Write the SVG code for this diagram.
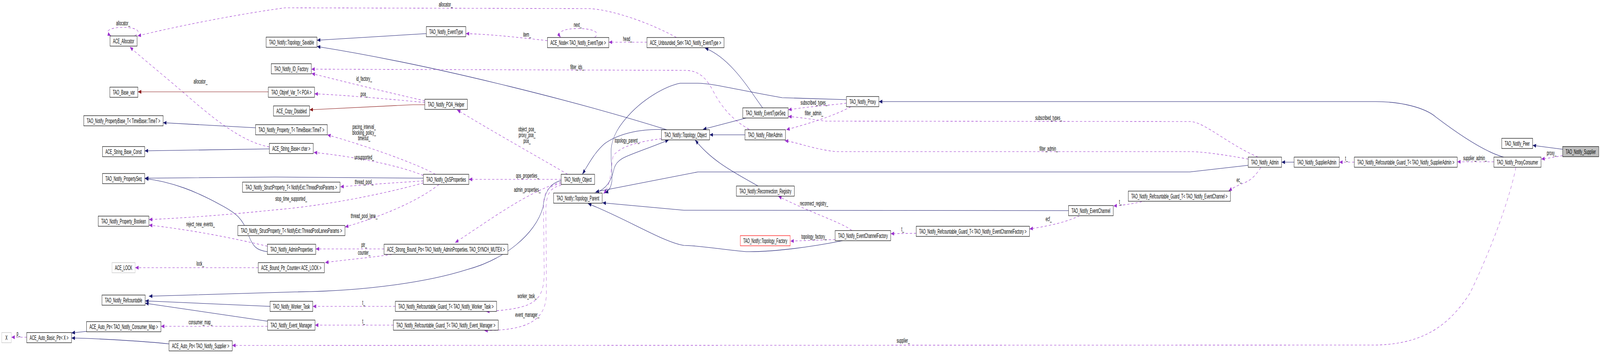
<svg xmlns="http://www.w3.org/2000/svg" width="6512" height="911" viewBox="0 0 6512 911" preserveAspectRatio="none">
<style>
svg:root{width:100vw;height:100vh}
.n rect{fill:#fff;stroke:#000;stroke-width:1.2}
.n rect.g{stroke:#bfbfbf}
.n rect.red{stroke:#ff0000}
.n rect.sel{fill:#bfbfbf}
text{font-family:"Liberation Sans",Arial,Helvetica,sans-serif;font-size:17px;fill:#000}
.n text{text-anchor:middle}
.l{text-anchor:middle}
#edges path{fill:none;stroke-width:1.1}
#edges .b{stroke:#191970;marker-end:url(#ab)}
#edges .r{stroke:#8b1a1a;marker-end:url(#ar)}
#edges .p{stroke:#9a32cd;stroke-dasharray:9,8;marker-end:url(#ap)}
</style>
<defs>
<marker id="ab" markerUnits="userSpaceOnUse" markerWidth="14" markerHeight="10" viewBox="0 0 14 10" refX="14" refY="5" orient="auto"><path d="M0,0 L14,5 L0,10 z" fill="#191970"/></marker>
<marker id="ar" markerUnits="userSpaceOnUse" markerWidth="14" markerHeight="10" viewBox="0 0 14 10" refX="14" refY="5" orient="auto"><path d="M0,0 L14,5 L0,10 z" fill="#8b1a1a"/></marker>
<marker id="ap" markerUnits="userSpaceOnUse" markerWidth="14" markerHeight="10" viewBox="0 0 14 10" refX="14" refY="5" orient="auto"><path d="M0,0 L14,5 L0,10 z" fill="#9a32cd"/></marker>
</defs>
<rect width="6512" height="911" fill="#fff"/>
<g id="edges">
<path class="p" d="M548,92 C585,76 540,70 500,70 C455,70 418,78 452,92"/>
<path class="p" d="M2753,96 C2650,60 2500,26 2400,22 L1160,20 C950,38 700,70 560,92"/>
<path class="p" d="M1096,376 C1000,365 900,320 780,255 C680,200 580,150 528,120"/>
<path class="p" d="M2420,96 C2450,80 2400,73 2355,73 C2300,73 2265,80 2282,96"/>
<path class="p" d="M2228,104 C2100,95 2000,88 1896,86"/>
<path class="p" d="M2633,108 L2478,108"/>
<path class="b" d="M3104,276 C3060,240 2980,150 2869,123"/>
<path class="b" d="M1735,86 L1290,103"/>
<path class="b" d="M2714,332 C2400,270 1800,170 1290,119"/>
<path class="p" d="M3049,331 C2990,310 2940,280 2900,230 C2870,195 2840,181 2790,180 L1267,177"/>
<path class="p" d="M1729,258 C1700,254 1500,225 1268,188"/>
<path class="p" d="M1729,262 C1650,258 1450,245 1280,240"/>
<path class="r" d="M1729,268 L1680,268 L1260,281"/>
<path class="r" d="M1092,235 L561,235"/>
<path class="p" d="M2310,446 C2200,405 2000,335 1860,281"/>
<path class="p" d="M2284,459 L1908,459"/>
<path class="p" d="M2284,466 C2150,490 2000,560 1852,621"/>
<path class="b" d="M2284,462 C2230,470 2215,500 2210,530 C2180,600 2050,665 1900,690 C1750,720 1500,745 1200,747 L606,758"/>
<path class="p" d="M2284,470 C2230,475 2212,490 2212,530 L2215,700 C2212,770 2180,790 1978,797"/>
<path class="p" d="M2284,474 C2240,480 2222,495 2222,540 L2224,750 C2222,820 2150,845 1971,846"/>
<path class="p" d="M1609,784 L1273,784"/>
<path class="p" d="M1601,832 L1282,832"/>
<path class="b" d="M1099,784 L591,770"/>
<path class="b" d="M1089,822 L591,776"/>
<path class="p" d="M1089,835 L655,835"/>
<path class="b" d="M352,848 L291,852"/>
<path class="b" d="M688,880 C600,874 400,866 291,865"/>
<path class="p" d="M109,863 L46,863"/>
<path class="p" d="M1563,637 L1285,637"/>
<path class="p" d="M1595,651 C1500,660 1400,665 1323,672"/>
<path class="p" d="M1051,685 L550,685"/>
<path class="b" d="M1088,644 C1040,640 1030,630 1010,600 C990,560 960,545 900,525 C800,490 700,465 590,457"/>
<path class="p" d="M1088,630 C950,610 800,590 606,576"/>
<path class="b" d="M1723,456 L1120,453 L590,456"/>
<path class="p" d="M1772,446 C1700,420 1500,375 1332,345"/>
<path class="p" d="M1723,449 C1650,430 1500,405 1277,390"/>
<path class="p" d="M1723,463 C1650,466 1500,472 1385,478"/>
<path class="p" d="M1723,468 C1600,490 1350,525 1120,537 C950,548 800,556 606,562"/>
<path class="p" d="M1787,472 C1720,505 1600,545 1404,581"/>
<path class="b" d="M1040,327 L664,314"/>
<path class="b" d="M1096,381 L589,386"/>
<path class="b" d="M2714,332 C2620,328 2520,340 2460,368 C2420,390 2395,420 2370,446"/>
<path class="b" d="M2420,494 C2470,485 2490,460 2500,430 C2515,400 2560,400 2722,358"/>
<path class="p" d="M2692,355 C2600,362 2520,375 2495,400 C2485,430 2490,470 2456,496"/>
<path class="b" d="M3445,255 L3183,250 C3000,230 2900,213 2840,213 L2768,213 C2700,222 2620,255 2569,288 C2520,320 2490,350 2487,384 C2486,420 2494,445 2490,465 C2486,482 2475,490 2462,494"/>
<path class="b" d="M5080,423 L4843,440 L2840,440 L2424,491"/>
<path class="b" d="M4349,539 L2783,538 L2452,519"/>
<path class="b" d="M3429,616 C3300,632 3150,645 3037,644 C2950,640 2850,628 2783,628 C2700,620 2550,560 2393,521"/>
<path class="b" d="M3037,302 L2861,331"/>
<path class="b" d="M3032,345 L2888,345"/>
<path class="b" d="M3085,476 C3000,445 2900,415 2829,358"/>
<path class="p" d="M3445,264 C3400,268 3300,272 3208,281"/>
<path class="p" d="M3463,273 C3400,295 3300,315 3200,332"/>
<path class="p" d="M5120,402 C5000,370 4900,311 4843,311 L3360,310 C3300,305 3250,300 3208,298"/>
<path class="p" d="M5080,407 C5000,398 4900,388 4843,388 L3400,388 C3300,380 3250,365 3194,360"/>
<path class="p" d="M5132,428 C5110,450 5090,462 5060,469 C5035,475 5015,482 5000,489"/>
<path class="p" d="M4664,514 C4620,520 4580,525 4532,527"/>
<path class="p" d="M4394,552 C4350,565 4300,575 4190,586"/>
<path class="p" d="M3729,597 L3625,598"/>
<path class="p" d="M3467,590 C3430,570 3300,545 3167,502"/>
<path class="p" d="M3399,613 L3217,617"/>
<path class="b" d="M6120,402 C6050,390 5950,350 5845,300 C5800,275 5700,260 5600,260 L3577,260"/>
<path class="p" d="M6080,414 L5931,414"/>
<path class="p" d="M5512,415 L5451,415"/>
<path class="b" d="M5267,415 L5216,415"/>
<path class="p" d="M6170,428 C6140,520 6060,650 5983,750 C5900,830 5800,880 5600,883 L945,884"/>
<path class="p" d="M6360,398 C6330,402 6300,405 6273,407"/>
<path class="b" d="M6360,382 L6238,372"/>
</g>
<g id="labels">
<text class="l" transform="translate(501,65) scale(0.77,1)">allocator_</text>
<text class="l" transform="translate(1814,17) scale(0.77,1)">allocator_</text>
<text class="l" transform="translate(816,214) scale(0.77,1)">allocator_</text>
<text class="l" transform="translate(2351,69) scale(0.77,1)">next_</text>
<text class="l" transform="translate(2145,94) scale(0.77,1)">item_</text>
<text class="l" transform="translate(2554,105) scale(0.77,1)">head_</text>
<text class="l" transform="translate(2349,177) scale(0.77,1)">filter_ids_</text>
<text class="l" transform="translate(1482,207) scale(0.77,1)">id_factory_</text>
<text class="l" transform="translate(1482,246) scale(0.77,1)">poa_</text>
<text class="l" transform="translate(2145,336) scale(0.77,1)">object_poa_</text>
<text class="l" transform="translate(2145,351) scale(0.77,1)">proxy_poa_</text>
<text class="l" transform="translate(2145,366) scale(0.77,1)">poa_</text>
<text class="l" transform="translate(2147,455) scale(0.77,1)">qos_properties_</text>
<text class="l" transform="translate(2146,491) scale(0.77,1)">admin_properties_</text>
<text class="l" transform="translate(2145,763) scale(0.77,1)">worker_task_</text>
<text class="l" transform="translate(2146,811) scale(0.77,1)">event_manager_</text>
<text class="l" transform="translate(1480,780) scale(0.77,1)">t_</text>
<text class="l" transform="translate(1480,828) scale(0.77,1)">t_</text>
<text class="l" transform="translate(816,830) scale(0.77,1)">consumer_map_</text>
<text class="l" transform="translate(75,859) scale(0.77,1)">p_</text>
<text class="l" transform="translate(1482,632) scale(0.77,1)">ptr_</text>
<text class="l" transform="translate(1482,652) scale(0.77,1)">counter_</text>
<text class="l" transform="translate(815,680) scale(0.77,1)">lock_</text>
<text class="l" transform="translate(816,579) scale(0.77,1)">reject_new_events_</text>
<text class="l" transform="translate(1482,330) scale(0.77,1)">pacing_interval_</text>
<text class="l" transform="translate(1482,345) scale(0.77,1)">blocking_policy_</text>
<text class="l" transform="translate(1482,359) scale(0.77,1)">timeout_</text>
<text class="l" transform="translate(1482,408) scale(0.77,1)">unsupported_</text>
<text class="l" transform="translate(1482,471) scale(0.77,1)">thread_pool_</text>
<text class="l" transform="translate(1185,514) scale(0.77,1)">stop_time_supported_</text>
<text class="l" transform="translate(1482,558) scale(0.77,1)">thread_pool_lane_</text>
<text class="l" transform="translate(2552,365) scale(0.77,1)">topology_parent_</text>
<text class="l" transform="translate(3313,268) scale(0.77,1)">subscribed_types_</text>
<text class="l" transform="translate(3313,295) scale(0.77,1)">filter_admin_</text>
<text class="l" transform="translate(4268,307) scale(0.77,1)">subscribed_types_</text>
<text class="l" transform="translate(4268,386) scale(0.77,1)">filter_admin_</text>
<text class="l" transform="translate(5043,466) scale(0.77,1)">ec_</text>
<text class="l" transform="translate(4560,522) scale(0.77,1)">t_</text>
<text class="l" transform="translate(4268,566) scale(0.77,1)">ecf_</text>
<text class="l" transform="translate(3674,592) scale(0.77,1)">t_</text>
<text class="l" transform="translate(3313,526) scale(0.77,1)">reconnect_registry_</text>
<text class="l" transform="translate(3313,611) scale(0.77,1)">topology_factory_</text>
<text class="l" transform="translate(6003,410) scale(0.77,1)">supplier_admin_</text>
<text class="l" transform="translate(5480,411) scale(0.77,1)">t_</text>
<text class="l" transform="translate(3676,877) scale(0.77,1)">supplier_</text>
<text class="l" transform="translate(6315,397) scale(0.77,1)">proxy_</text>
</g>
<g id="n1" class="n"><rect x="448" y="92" width="110" height="26"/><text x="503" y="111" textLength="86" lengthAdjust="spacingAndGlyphs">ACE_Allocator</text></g>
<g id="n2" class="n"><rect x="447" y="223" width="114" height="26"/><text x="504" y="242" textLength="90" lengthAdjust="spacingAndGlyphs">TAO_Base_var</text></g>
<g id="n3" class="n"><rect x="341" y="296" width="323" height="26"/><text x="502.5" y="315" textLength="299" lengthAdjust="spacingAndGlyphs">TAO_Notify_PropertyBase_T&lt; TimeBase::TimeT &gt;</text></g>
<g id="n4" class="n"><rect x="417" y="375" width="172" height="26"/><text x="503" y="394" textLength="148" lengthAdjust="spacingAndGlyphs">ACE_String_Base_Const</text></g>
<g id="n5" class="n"><rect x="417" y="444" width="172" height="26"/><text x="503" y="463" textLength="148" lengthAdjust="spacingAndGlyphs">TAO_Notify_PropertySeq</text></g>
<g id="n6" class="n"><rect x="400" y="553" width="206" height="26"/><text x="503" y="572" textLength="182" lengthAdjust="spacingAndGlyphs">TAO_Notify_Property_Boolean</text></g>
<g id="n7" class="n"><rect class="g" x="456" y="672" width="94" height="26"/><text x="503" y="691" textLength="70" lengthAdjust="spacingAndGlyphs">ACE_LOCK</text></g>
<g id="n8" class="n"><rect x="415" y="755" width="176" height="26"/><text x="503" y="774" textLength="152" lengthAdjust="spacingAndGlyphs">TAO_Notify_Refcountable</text></g>
<g id="n9" class="n"><rect x="352" y="823" width="303" height="26"/><text x="503.5" y="842" textLength="279" lengthAdjust="spacingAndGlyphs">ACE_Auto_Ptr&lt; TAO_Notify_Consumer_Map &gt;</text></g>
<g id="n10" class="n"><rect class="g" x="7" y="851" width="39" height="26"/><text x="26.5" y="870" textLength="9" lengthAdjust="spacingAndGlyphs">X</text></g>
<g id="n11" class="n"><rect x="109" y="851" width="182" height="26"/><text x="200" y="870" textLength="158" lengthAdjust="spacingAndGlyphs">ACE_Auto_Basic_Ptr&lt; X &gt;</text></g>
<g id="n12" class="n"><rect x="688" y="872" width="257" height="26"/><text x="816.5" y="891" textLength="233" lengthAdjust="spacingAndGlyphs">ACE_Auto_Ptr&lt; TAO_Notify_Supplier &gt;</text></g>
<g id="n13" class="n"><rect x="1083" y="95" width="207" height="26"/><text x="1186.5" y="114" textLength="183" lengthAdjust="spacingAndGlyphs">TAO_Notify::Topology_Savable</text></g>
<g id="n14" class="n"><rect x="1104" y="163" width="163" height="26"/><text x="1185.5" y="182" textLength="139" lengthAdjust="spacingAndGlyphs">TAO_Notify_ID_Factory</text></g>
<g id="n15" class="n"><rect x="1092" y="223" width="188" height="26"/><text x="1186" y="242" textLength="164" lengthAdjust="spacingAndGlyphs">TAO_Objref_Var_T&lt; POA &gt;</text></g>
<g id="n16" class="n"><rect x="1113" y="271" width="147" height="26"/><text x="1186.5" y="290" textLength="123" lengthAdjust="spacingAndGlyphs">ACE_Copy_Disabled</text></g>
<g id="n17" class="n"><rect x="1040" y="319" width="292" height="26"/><text x="1186" y="338" textLength="268" lengthAdjust="spacingAndGlyphs">TAO_Notify_Property_T&lt; TimeBase::TimeT &gt;</text></g>
<g id="n18" class="n"><rect x="1096" y="367" width="179" height="26"/><text x="1185.5" y="386" textLength="155" lengthAdjust="spacingAndGlyphs">ACE_String_Base&lt; char &gt;</text></g>
<g id="n19" class="n"><rect x="987" y="466" width="397" height="26"/><text x="1185.5" y="485" textLength="373" lengthAdjust="spacingAndGlyphs">TAO_Notify_StructProperty_T&lt; NotifyExt::ThreadPoolParams &gt;</text></g>
<g id="n20" class="n"><rect x="968" y="577" width="436" height="26"/><text x="1186" y="596" textLength="412" lengthAdjust="spacingAndGlyphs">TAO_Notify_StructProperty_T&lt; NotifyExt::ThreadPoolLanesParams &gt;</text></g>
<g id="n21" class="n"><rect x="1088" y="625" width="197" height="26"/><text x="1186.5" y="644" textLength="173" lengthAdjust="spacingAndGlyphs">TAO_Notify_AdminProperties</text></g>
<g id="n22" class="n"><rect x="1051" y="672" width="269" height="26"/><text x="1185.5" y="691" textLength="245" lengthAdjust="spacingAndGlyphs">ACE_Bound_Ptr_Counter&lt; ACE_LOCK &gt;</text></g>
<g id="n23" class="n"><rect x="1099" y="771" width="174" height="26"/><text x="1186" y="790" textLength="150" lengthAdjust="spacingAndGlyphs">TAO_Notify_Worker_Task</text></g>
<g id="n24" class="n"><rect x="1089" y="819" width="193" height="26"/><text x="1185.5" y="838" textLength="169" lengthAdjust="spacingAndGlyphs">TAO_Notify_Event_Manager</text></g>
<g id="n25" class="n"><rect x="1563" y="625" width="504" height="26"/><text x="1815" y="644" textLength="480" lengthAdjust="spacingAndGlyphs">ACE_Strong_Bound_Ptr&lt; TAO_Notify_AdminProperties, TAO_SYNCH_MUTEX &gt;</text></g>
<g id="n26" class="n"><rect x="1609" y="771" width="412" height="26"/><text x="1815" y="790" textLength="388" lengthAdjust="spacingAndGlyphs">TAO_Notify_Refcountable_Guard_T&lt; TAO_Notify_Worker_Task &gt;</text></g>
<g id="n27" class="n"><rect x="1601" y="819" width="427" height="26"/><text x="1814.5" y="838" textLength="403" lengthAdjust="spacingAndGlyphs">TAO_Notify_Refcountable_Guard_T&lt; TAO_Notify_Event_Manager &gt;</text></g>
<g id="n28" class="n"><rect x="1735" y="68" width="161" height="26"/><text x="1815.5" y="87" textLength="137" lengthAdjust="spacingAndGlyphs">TAO_Notify_EventType</text></g>
<g id="n29" class="n"><rect x="1729" y="254" width="173" height="26"/><text x="1815.5" y="273" textLength="149" lengthAdjust="spacingAndGlyphs">TAO_Notify_POA_Helper</text></g>
<g id="n30" class="n"><rect x="1723" y="446" width="185" height="26"/><text x="1815.5" y="465" textLength="161" lengthAdjust="spacingAndGlyphs">TAO_Notify_QoSProperties</text></g>
<g id="n31" class="n"><rect x="2228" y="96" width="250" height="26"/><text x="2353" y="115" textLength="226" lengthAdjust="spacingAndGlyphs">ACE_Node&lt; TAO_Notify_EventType &gt;</text></g>
<g id="n32" class="n"><rect x="2284" y="446" width="136" height="26"/><text x="2352" y="465" textLength="112" lengthAdjust="spacingAndGlyphs">TAO_Notify_Object</text></g>
<g id="n33" class="n"><rect x="2253" y="494" width="198" height="26"/><text x="2352" y="513" textLength="174" lengthAdjust="spacingAndGlyphs">TAO_Notify::Topology_Parent</text></g>
<g id="n34" class="n"><rect x="2633" y="96" width="314" height="26"/><text x="2790" y="115" textLength="290" lengthAdjust="spacingAndGlyphs">ACE_Unbounded_Set&lt; TAO_Notify_EventType &gt;</text></g>
<g id="n35" class="n"><rect x="2692" y="332" width="196" height="26"/><text x="2790" y="351" textLength="172" lengthAdjust="spacingAndGlyphs">TAO_Notify::Topology_Object</text></g>
<g id="n36" class="n"><rect x="3023" y="276" width="185" height="26"/><text x="3115.5" y="295" textLength="161" lengthAdjust="spacingAndGlyphs">TAO_Notify_EventTypeSeq</text></g>
<g id="n37" class="n"><rect x="3032" y="332" width="165" height="26"/><text x="3114.5" y="351" textLength="141" lengthAdjust="spacingAndGlyphs">TAO_Notify_FilterAdmin</text></g>
<g id="n38" class="n"><rect x="2997" y="476" width="236" height="26"/><text x="3115" y="495" textLength="212" lengthAdjust="spacingAndGlyphs">TAO_Notify::Reconnection_Registry</text></g>
<g id="n39" class="n"><rect class="red" x="3013" y="603" width="203" height="26"/><text x="3114.5" y="622" textLength="179" lengthAdjust="spacingAndGlyphs">TAO_Notify::Topology_Factory</text></g>
<g id="n40" class="n"><rect x="3399" y="590" width="226" height="26"/><text x="3512" y="609" textLength="202" lengthAdjust="spacingAndGlyphs">TAO_Notify_EventChannelFactory</text></g>
<g id="n41" class="n"><rect x="3445" y="247" width="132" height="26"/><text x="3511" y="266" textLength="108" lengthAdjust="spacingAndGlyphs">TAO_Notify_Proxy</text></g>
<g id="n42" class="n"><rect x="3729" y="579" width="461" height="26"/><text x="3959.5" y="598" textLength="437" lengthAdjust="spacingAndGlyphs">TAO_Notify_Refcountable_Guard_T&lt; TAO_Notify_EventChannelFactory &gt;</text></g>
<g id="n43" class="n"><rect x="4349" y="526" width="182" height="26"/><text x="4440" y="545" textLength="158" lengthAdjust="spacingAndGlyphs">TAO_Notify_EventChannel</text></g>
<g id="n44" class="n"><rect x="4592" y="489" width="416" height="26"/><text x="4800" y="508" textLength="392" lengthAdjust="spacingAndGlyphs">TAO_Notify_Refcountable_Guard_T&lt; TAO_Notify_EventChannel &gt;</text></g>
<g id="n45" class="n"><rect x="5080" y="402" width="136" height="26"/><text x="5148" y="421" textLength="112" lengthAdjust="spacingAndGlyphs">TAO_Notify_Admin</text></g>
<g id="n46" class="n"><rect x="5267" y="402" width="184" height="26"/><text x="5359" y="421" textLength="160" lengthAdjust="spacingAndGlyphs">TAO_Notify_SupplierAdmin</text></g>
<g id="n47" class="n"><rect x="5512" y="402" width="419" height="26"/><text x="5721.5" y="421" textLength="395" lengthAdjust="spacingAndGlyphs">TAO_Notify_Refcountable_Guard_T&lt; TAO_Notify_SupplierAdmin &gt;</text></g>
<g id="n48" class="n"><rect x="6080" y="402" width="192" height="26"/><text x="6176" y="421" textLength="168" lengthAdjust="spacingAndGlyphs">TAO_Notify_ProxyConsumer</text></g>
<g id="n49" class="n"><rect x="6112" y="354" width="126" height="26"/><text x="6175" y="373" textLength="102" lengthAdjust="spacingAndGlyphs">TAO_Notify_Peer</text></g>
<g id="n50" class="n"><rect class="sel" x="6360" y="375" width="147" height="26"/><text x="6433.5" y="394" textLength="123" lengthAdjust="spacingAndGlyphs">TAO_Notify_Supplier</text></g>
</svg>
